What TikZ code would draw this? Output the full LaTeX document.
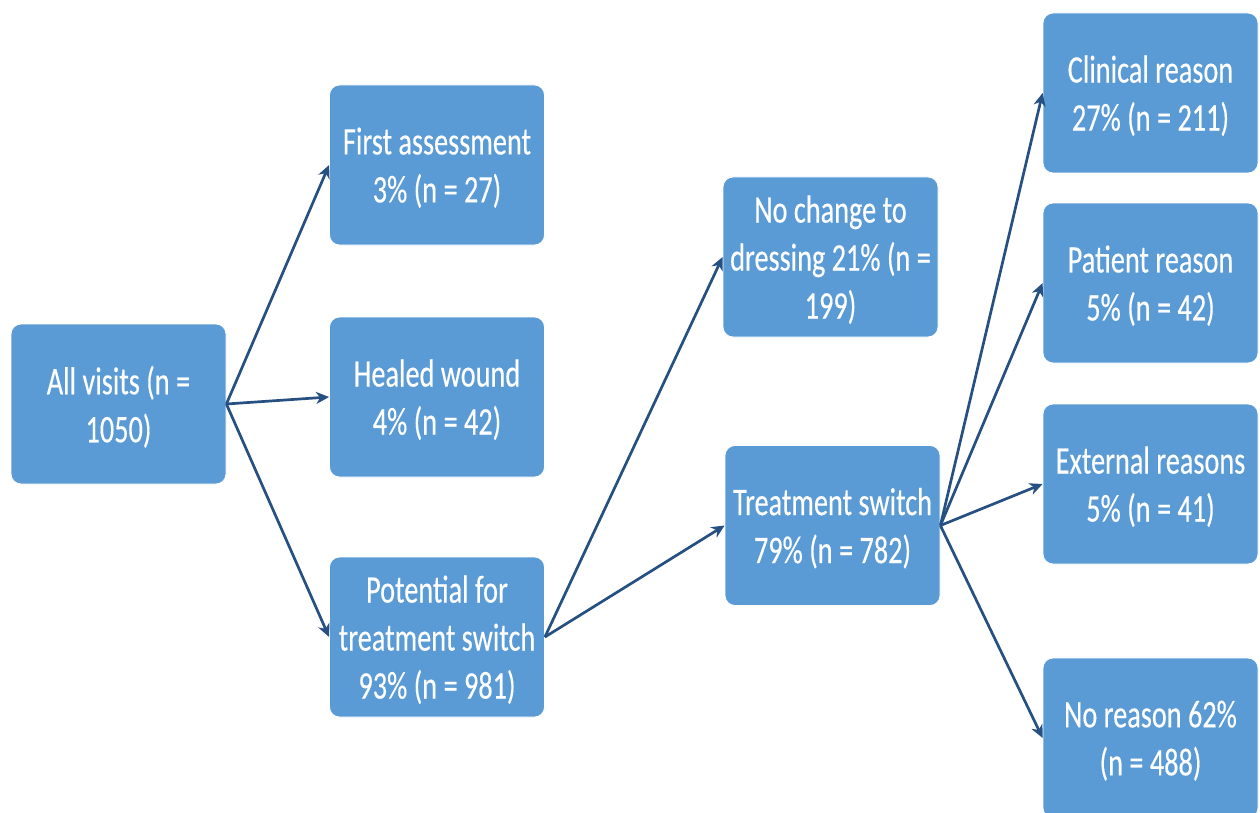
\documentclass[tikz,border=0pt]{standalone}
\usepackage{fontspec}
\setmainfont[FakeStretch=0.725,FakeBold=0.3]{Carlito}
\usetikzlibrary{arrows.meta}
\definecolor{boxblue}{RGB}{91,155,213}
\definecolor{arrowblue}{RGB}{37,80,129}
\tikzset{
  box/.style={rectangle, rounded corners=10pt, fill=boxblue, draw=white, line width=0.8pt,
    minimum width=215pt, minimum height=160pt, inner sep=0pt, text depth=0pt,
    text=white, align=center, font=\fontsize{39}{48}\selectfont},
  link/.style={draw=arrowblue, line width=2.7pt,
    -{Stealth[length=13pt,width=12pt,inset=4pt]}},
}
\begin{document}
\begin{tikzpicture}[x=1pt, y=-1pt]
  \useasboundingbox (0,0) rectangle (1260,813);
  \clip (0,0) rectangle (1260,813);

  % first column
  \node[box] (all) at (118.5,404) {All visits (n =\\1050)};

  % second column
  \node[box] (first)     at (437,165) {First assessment\\3\% (n = 27)};
  \node[box] (healed)    at (437,397) {Healed wound\\4\% (n = 42)};
  \node[box] (potential) at (437,637) {Potential for\\treatment switch\\93\% (n = 981)};

  % third column
  \node[box] (nochange) at (830.5,257) {No change to\\dressing 21\% (n =\\199)};
  \node[box] (switch)   at (832.5,525.5) {Treatment switch\\79\% (n = 782)};

  % fourth column
  \node[box] (clinical) at (1150.5,93)  {Clinical reason\\27\% (n = 211)};
  \node[box] (patient)  at (1150.5,283) {Patient reason\\5\% (n = 42)};
  \node[box] (external) at (1150.5,484) {External reasons\\5\% (n = 41)};
  \node[box] (noreason) at (1150.5,738) {No reason 62\%\\(n = 488)};

  % connectors
  \draw[link] (all.east) -- (first.west);
  \draw[link] (all.east) -- (healed.west);
  \draw[link] (all.east) -- (potential.west);
  \draw[link] (potential.east) -- (nochange.west);
  \draw[link] (potential.east) -- (switch.west);
  \draw[link] (switch.east) -- (clinical.west);
  \draw[link] (switch.east) -- (patient.west);
  \draw[link] (switch.east) -- (external.west);
  \draw[link] (switch.east) -- (noreason.west);
\end{tikzpicture}
\end{document}
